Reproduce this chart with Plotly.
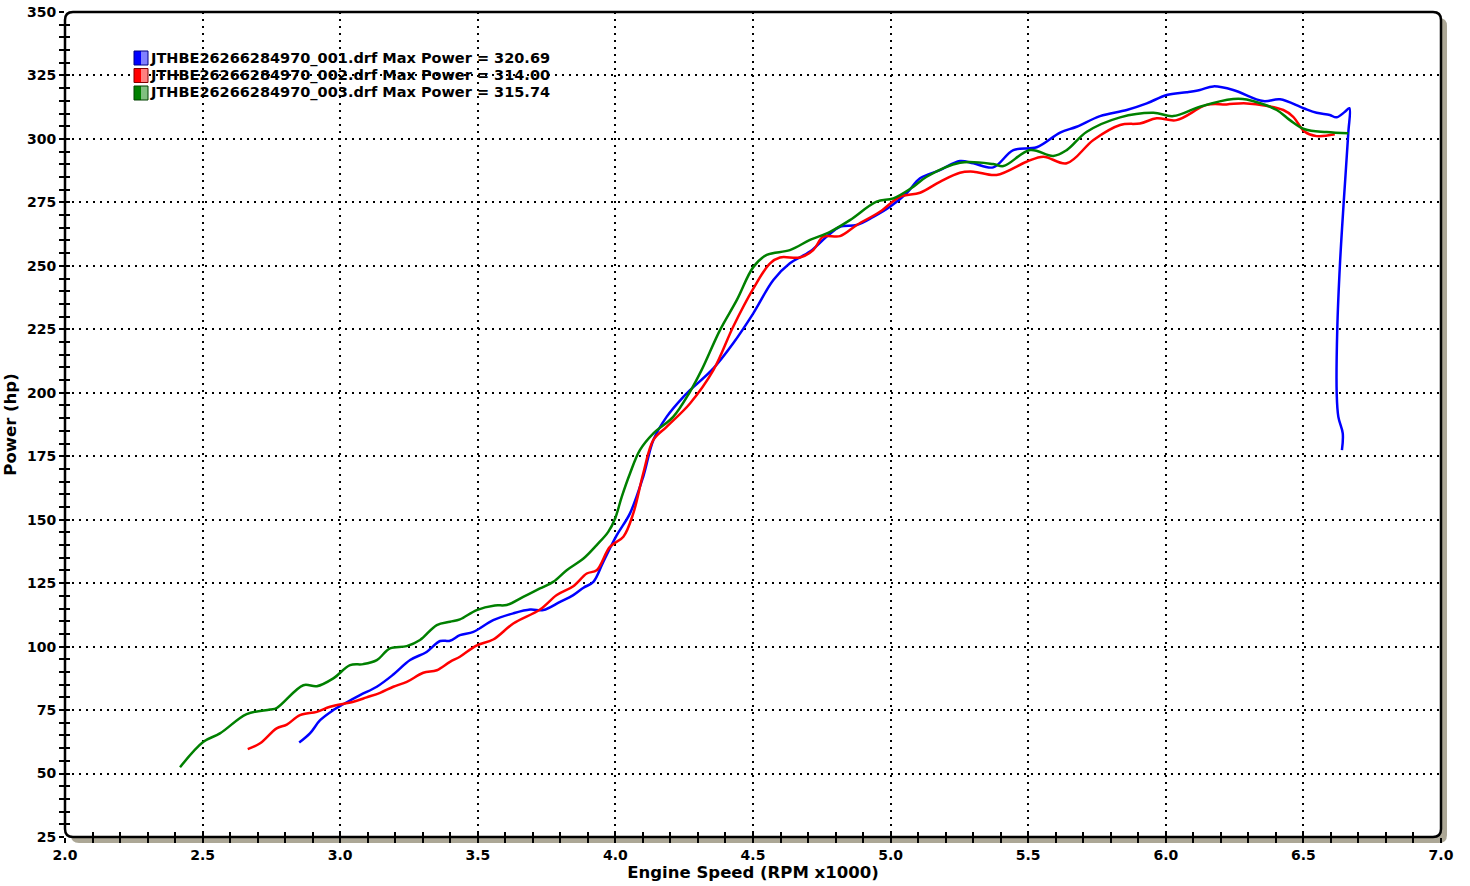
import plotly.graph_objects as go

# ---------------- data ----------------
rpm_001 = [2.851, 2.890, 2.927, 2.975, 3.011, 3.072, 3.133, 3.193, 3.254, 3.314, 3.363, 3.399,
           3.435, 3.484, 3.556, 3.629, 3.690, 3.738, 3.799, 3.847, 3.884, 3.920, 3.956, 4.005,
           4.053, 4.101, 4.138, 4.186, 4.247, 4.271, 4.356, 4.428, 4.501, 4.574, 4.634, 4.707,
           4.768, 4.816, 4.877, 4.937, 4.998, 5.058, 5.107, 5.179, 5.252, 5.301, 5.373, 5.446,
           5.531, 5.616, 5.676, 5.761, 5.858, 5.931, 6.003, 6.076, 6.124, 6.173, 6.245, 6.354,
           6.415, 6.500, 6.548, 6.596, 6.620, 6.651, 6.667, 6.663, 6.647, 6.633, 6.623, 6.621,
           6.627, 6.643, 6.640]
hp_001 = [62.2, 65.8, 71.0, 75.0, 77.3, 80.9, 84.2, 89.0, 94.7, 97.9, 102.2, 102.3,
          104.5, 105.8, 110.4, 113.1, 114.6, 114.4, 117.6, 120.3, 123.2, 125.5, 133.4, 143.9,
          152.5, 166.9, 181.4, 190.5, 198.4, 201.0, 209.6, 219.5, 231.3, 244.4, 251.0, 255.6,
          261.5, 265.4, 266.1, 269.3, 273.3, 278.6, 284.5, 287.7, 291.3, 290.4, 288.8, 295.6,
          296.7, 302.5, 304.8, 309.0, 311.4, 314.0, 317.3, 318.4, 319.3, 320.7, 319.3, 314.9,
          315.6, 312.1, 310.3, 309.4, 308.5, 310.7, 312.1, 302.2, 275.9, 251.0, 224.7, 199.8,
          190.5, 184.0, 177.4]

rpm_002 = [2.664, 2.709, 2.769, 2.806, 2.854, 2.915, 2.963, 3.048, 3.096, 3.145, 3.193, 3.242,
           3.302, 3.351, 3.399, 3.435, 3.495, 3.556, 3.629, 3.726, 3.787, 3.847, 3.896, 3.932,
           3.980, 4.029, 4.065, 4.101, 4.138, 4.186, 4.271, 4.356, 4.428, 4.501, 4.562, 4.598,
           4.671, 4.719, 4.755, 4.816, 4.877, 4.961, 5.034, 5.107, 5.179, 5.252, 5.301, 5.385,
           5.494, 5.555, 5.640, 5.737, 5.834, 5.906, 5.967, 6.039, 6.149, 6.221, 6.294, 6.427,
           6.463, 6.505, 6.548, 6.614]
hp_002 = [59.6, 61.9, 67.8, 69.3, 73.0, 74.3, 76.3, 78.3, 80.0, 81.8, 84.2, 86.1,
          89.7, 90.7, 94.0, 96.0, 100.4, 102.8, 109.1, 114.6, 120.3, 123.8, 128.8, 130.1,
          139.3, 143.3, 152.5, 168.2, 181.4, 186.6, 195.8, 208.9, 226.0, 241.0, 251.0, 253.3,
          253.3, 256.2, 261.5, 261.7, 266.1, 271.3, 277.2, 278.8, 283.1, 286.7, 287.1, 285.8,
          291.0, 293.0, 290.4, 299.6, 305.5, 306.1, 308.1, 307.4, 313.4, 313.6, 314.0, 311.4,
          308.7, 302.8, 301.1, 301.8]

rpm_003 = [2.418, 2.503, 2.563, 2.660, 2.745, 2.769, 2.866, 2.915, 2.975, 3.036, 3.084, 3.133,
           3.181, 3.242, 3.290, 3.351, 3.399, 3.435, 3.496, 3.562, 3.605, 3.665, 3.726, 3.774,
           3.823, 3.884, 3.932, 3.974, 3.999, 4.023, 4.053, 4.089, 4.138, 4.210, 4.271, 4.313,
           4.380, 4.441, 4.501, 4.550, 4.634, 4.707, 4.780, 4.852, 4.949, 5.010, 5.083, 5.131,
           5.252, 5.373, 5.410, 5.507, 5.591, 5.640, 5.713, 5.834, 5.955, 6.027, 6.124, 6.245,
           6.294, 6.403, 6.451, 6.505, 6.584, 6.663]
hp_003 = [52.5, 62.5, 65.8, 73.4, 75.2, 75.8, 84.8, 84.4, 87.5, 92.7, 93.1, 94.7,
          99.3, 100.2, 102.6, 108.5, 109.8, 110.7, 114.4, 116.2, 116.4, 119.6, 122.9, 125.5,
          130.1, 134.7, 140.0, 145.2, 150.5, 159.0, 168.2, 177.4, 184.0, 190.5, 200.4, 208.9,
          224.7, 236.5, 249.5, 254.3, 256.2, 260.2, 263.4, 268.0, 275.3, 276.6, 281.2, 285.1,
          290.6, 290.1, 289.3, 295.6, 293.3, 295.6, 302.8, 308.5, 310.3, 309.0, 312.7, 315.7,
          315.5, 311.4, 307.4, 303.8, 302.7, 302.2]

run_names = ["JTHBE26266284970_001.drf", "JTHBE26266284970_002.drf", "JTHBE26266284970_003.drf"]
max_power = [320.69, 314.00, 315.74]
run_colors = ["#0000ff", "#ff0000", "#008000"]
run_light = ["#8080ff", "#ff8080", "#80c080"]
run_edge = ["#000080", "#800000", "#004000"]

x_tickvals = [2.0, 2.5, 3.0, 3.5, 4.0, 4.5, 5.0, 5.5, 6.0, 6.5, 7.0]
y_tickvals = [25, 50, 75, 100, 125, 150, 175, 200, 225, 250, 275, 300, 325, 350]

# ---------------- figure ----------------
W, H = 1470, 886
ML, MR, MT, MB = 65, 29, 12, 49
PW, PH = W - ML - MR, H - MT - MB

font_fam = "DejaVu Sans"
fig = go.Figure()

series = [(rpm_001, hp_001), (rpm_002, hp_002), (rpm_003, hp_003)]
for (xs, ys), name, col in zip(series, run_names, run_colors):
    fig.add_trace(go.Scatter(x=xs, y=ys, mode="lines", name=name,
                             line=dict(color=col, width=2.5, shape="spline", smoothing=1.0),
                             showlegend=False, hoverinfo="x+y"))

# dummy trace for the overlaid axes (inside half of the crossing ticks)
fig.add_trace(go.Scatter(x=[None], y=[None], xaxis="x2", yaxis="y2", showlegend=False,
                         hoverinfo="skip"))

grid_dash = "2px,5px"
fig.update_layout(
    width=W, height=H,
    margin=dict(l=ML, r=MR, t=MT, b=MB, autoexpand=False),
    paper_bgcolor="white", plot_bgcolor="white",
    font=dict(family=font_fam, color="black"),
    xaxis=dict(range=[2.0, 7.0], tickvals=x_tickvals, tickformat=".1f", automargin=False,
               showgrid=True, gridcolor="black", gridwidth=2, griddash=grid_dash,
               zeroline=False, showline=False,
               ticks="outside", ticklen=5, tickwidth=2, tickcolor="black",
               minor=dict(dtick=0.1, tick0=2.0, ticks="outside", ticklen=5, tickwidth=2,
                          tickcolor="black", showgrid=False),
               tickfont=dict(size=14, weight="bold"),
               title=dict(text="Engine Speed (RPM x1000)", font=dict(size=16.5, weight="bold"),
                          standoff=4)),
    yaxis=dict(range=[25, 350], tickvals=y_tickvals, automargin=False,
               showgrid=True, gridcolor="black", gridwidth=2, griddash=grid_dash,
               zeroline=False, showline=False,
               ticks="outside", ticklen=5, tickwidth=2, tickcolor="black",
               minor=dict(dtick=5, tick0=25, ticks="outside", ticklen=5, tickwidth=2,
                          tickcolor="black", showgrid=False),
               tickfont=dict(size=14, weight="bold"),
               title=dict(text="Power (hp)", font=dict(size=16.5, weight="bold"), standoff=6)),
    xaxis2=dict(overlaying="x", matches="x", range=[2.0, 7.0], showgrid=False, zeroline=False,
                automargin=False,
                showticklabels=False, tickvals=x_tickvals, ticks="inside", ticklen=5,
                tickwidth=2, tickcolor="black", side="bottom", anchor="y2",
                minor=dict(dtick=0.1, tick0=2.0, ticks="inside", ticklen=5, tickwidth=2,
                           tickcolor="black", showgrid=False)),
    yaxis2=dict(overlaying="y", matches="y", range=[25, 350], showgrid=False, zeroline=False,
                automargin=False,
                showticklabels=False, tickvals=y_tickvals, ticks="inside", ticklen=5,
                tickwidth=2, tickcolor="black", side="left", anchor="x2",
                minor=dict(dtick=5, tick0=25, ticks="inside", ticklen=5, tickwidth=2,
                           tickcolor="black", showgrid=False)),
)

# frame with rounded corners and drop shadow
rx, ry = 8 / PW, 8 / PH
def rounded(x0, y0, x1, y1):
    return (f"M {x0},{y0+ry} L {x0},{y1-ry} Q {x0},{y1} {x0+rx},{y1} L {x1-rx},{y1} "
            f"Q {x1},{y1} {x1},{y1-ry} L {x1},{y0+ry} Q {x1},{y0} {x1-rx},{y0} "
            f"L {x0+rx},{y0} Q {x0},{y0} {x0},{y0+ry} Z")

sx, sy = 6 / PW, 6 / PH
fig.add_shape(type="path", xref="paper", yref="paper", layer="below",
              path=rounded(0 + sx, 0 - sy, 1 + sx, 1 - sy),
              fillcolor="#aca796", line=dict(width=0))
fig.add_shape(type="path", xref="paper", yref="paper", layer="below",
              path=rounded(0, 0, 1, 1), fillcolor="white", line=dict(width=0))
fig.add_shape(type="path", xref="paper", yref="paper", layer="above",
              path=rounded(0, 0, 1, 1), line=dict(color="black", width=2.5))

# in-plot legend (text + coloured boxes)
row_py = [58, 75.5, 93]
ix0, ix1 = (134 - ML) / PW, (148 - ML) / PW
ixm = (ix0 + ix1) / 2
hh = 7 / PH
for name, mp, col, light, edge, py in zip(run_names, max_power, run_colors, run_light,
                                          run_edge, row_py):
    yc = 1 - (py - MT) / PH
    fig.add_shape(type="rect", xref="paper", yref="paper", x0=ix0, x1=ixm,
                  y0=yc - hh, y1=yc + hh, fillcolor=col, line=dict(width=0))
    fig.add_shape(type="rect", xref="paper", yref="paper", x0=ixm, x1=ix1,
                  y0=yc - hh, y1=yc + hh, fillcolor=light, line=dict(width=0))
    fig.add_shape(type="rect", xref="paper", yref="paper", x0=ix0, x1=ix1,
                  y0=yc - hh, y1=yc + hh, line=dict(color=edge, width=1))
    fig.add_annotation(xref="paper", yref="paper", x=(148 - ML) / PW, y=yc,
                       xanchor="left", yanchor="middle", showarrow=False,
                       text=f"{name} Max Power = {mp:.2f}",
                       font=dict(size=14.5, weight="bold", family=font_fam, color="black"))

fig.write_html("out.html", config={"displayModeBar": False},
               post_script="document.body.style.margin='0';document.body.style.overflow='hidden';")
